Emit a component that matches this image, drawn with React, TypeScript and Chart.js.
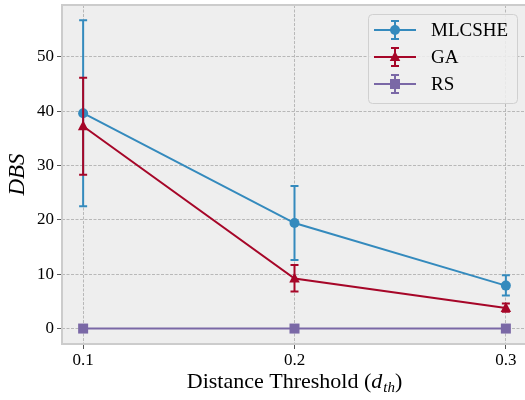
import React, { useEffect, useRef } from "react";
import { Chart, registerables } from "chart.js";

Chart.register(...registerables);

const thresholds = [0.1, 0.2, 0.3];
const mlcsheMean = [39.6, 19.4, 7.9];
const mlcsheLow = [22.5, 12.6, 6.1];
const mlcsheHigh = [56.7, 26.2, 9.8];
const gaMean = [37.2, 9.2, 3.8];
const gaLow = [28.3, 6.8, 3.1];
const gaHigh = [46.1, 11.7, 4.6];
const rsMean = [0, 0, 0];
const rsLow = [0, 0, 0];
const rsHigh = [0, 0, 0];
const yTicks = [0, 10, 20, 30, 40, 50];
const xTicks = [0.1, 0.2, 0.3];
const seriesNames = ["MLCSHE", "GA", "RS"];
const seriesColors = ["#348ABD", "#A60628", "#7A68A6"];
const seriesMarkers = ["circle", "triangle", "rect"];

const SERIF = "'Liberation Serif', 'Times New Roman', serif";

function drawMarker(ctx: CanvasRenderingContext2D, style: string, x: number, y: number, r: number, color: string) {
  ctx.save();
  ctx.fillStyle = color;
  ctx.beginPath();
  if (style === "circle") {
    ctx.arc(x, y, r, 0, Math.PI * 2);
  } else if (style === "triangle") {
    ctx.moveTo(x, y - r * 1.2);
    ctx.lineTo(x + r * 1.05, y + r * 0.8);
    ctx.lineTo(x - r * 1.05, y + r * 0.8);
    ctx.closePath();
  } else {
    ctx.rect(x - r, y - r, 2 * r, 2 * r);
  }
  ctx.fill();
  ctx.restore();
}

export default function App() {
  const ref = useRef<HTMLCanvasElement>(null);
  useEffect(() => {
    if (!ref.current) return;
    const lows = [mlcsheLow, gaLow, rsLow];
    const highs = [mlcsheHigh, gaHigh, rsHigh];
    const means = [mlcsheMean, gaMean, rsMean];

    const datasets = seriesNames.map((name, i) => ({
      label: name,
      data: thresholds.map((t, j) => ({ x: t, y: means[i][j] })),
      borderColor: seriesColors[i],
      backgroundColor: seriesColors[i],
      borderWidth: 2,
      pointRadius: 0,
      pointHoverRadius: 0,
      tension: 0,
    }));

    const bgPlugin = {
      id: "bg",
      beforeDraw(chart: any) {
        const { ctx, chartArea: a } = chart;
        ctx.save();
        ctx.fillStyle = "#eeeeee";
        ctx.fillRect(a.left, a.top, a.right - a.left, a.bottom - a.top);
        ctx.restore();
      },
    };

    const errPlugin = {
      id: "err",
      afterDatasetsDraw(chart: any) {
        const { ctx } = chart;
        const xs = chart.scales.x;
        const ys = chart.scales.y;
        seriesNames.forEach((_, i) => {
          ctx.save();
          ctx.strokeStyle = seriesColors[i];
          ctx.lineWidth = 2;
          thresholds.forEach((t, j) => {
            const px = xs.getPixelForValue(t);
            const y1 = ys.getPixelForValue(lows[i][j]);
            const y2 = ys.getPixelForValue(highs[i][j]);
            if (Math.abs(y1 - y2) > 0.5) {
              ctx.beginPath();
              ctx.moveTo(px, y1);
              ctx.lineTo(px, y2);
              ctx.moveTo(px - 4, y1);
              ctx.lineTo(px + 4, y1);
              ctx.moveTo(px - 4, y2);
              ctx.lineTo(px + 4, y2);
              ctx.stroke();
            }
            drawMarker(ctx, seriesMarkers[i], px, ys.getPixelForValue(means[i][j]), 5, seriesColors[i]);
          });
          ctx.restore();
        });
      },
    };

    const framePlugin = {
      id: "frame",
      afterDraw(chart: any) {
        const { ctx, chartArea: a } = chart;
        ctx.save();
        ctx.strokeStyle = "#cccccc";
        ctx.lineWidth = 2;
        ctx.strokeRect(a.left, a.top, a.right - a.left, a.bottom - a.top);
        // x title with italic subscript
        const cx = (a.left + a.right) / 2;
        ctx.fillStyle = "#000";
        ctx.textBaseline = "alphabetic";
        const f1 = `22px ${SERIF}`;
        const f2 = `italic 22px ${SERIF}`;
        const f3 = `italic 15px ${SERIF}`;
        const p1 = "Distance Threshold (";
        ctx.font = f1; const w1 = ctx.measureText(p1).width; const w4 = ctx.measureText(")").width;
        ctx.font = f2; const w2 = ctx.measureText("d").width;
        ctx.font = f3; const w3 = ctx.measureText("th").width;
        const total = w1 + w2 + w3 + w4 + 1;
        let x = cx - total / 2;
        const base = 388;
        ctx.font = f1; ctx.fillText(p1, x, base); x += w1;
        ctx.font = f2; ctx.fillText("d", x, base); x += w2 + 1;
        ctx.font = f3; ctx.fillText("th", x, base + 4); x += w3;
        ctx.font = f1; ctx.fillText(")", x, base);
        // y title
        ctx.save();
        ctx.translate(18, (a.top + a.bottom) / 2);
        ctx.rotate(-Math.PI / 2);
        ctx.font = `italic 23px ${SERIF}`;
        ctx.textAlign = "center";
        ctx.textBaseline = "middle";
        ctx.fillText("DBS", 0, 0);
        ctx.restore();
        // legend
        const lx = 368, ly = 14, lw = 149, lh = 89;
        ctx.fillStyle = "rgba(238,238,238,0.85)";
        ctx.strokeStyle = "#d0d0d0";
        ctx.lineWidth = 1;
        ctx.beginPath();
        ctx.roundRect(lx + 0.5, ly + 0.5, lw, lh, 4);
        ctx.fill();
        ctx.stroke();
        seriesNames.forEach((name, i) => {
          const ey = 30 + i * 27;
          ctx.strokeStyle = seriesColors[i];
          ctx.lineWidth = 2;
          ctx.beginPath();
          ctx.moveTo(374, ey); ctx.lineTo(416, ey);
          ctx.moveTo(395, ey - 9); ctx.lineTo(395, ey + 9);
          ctx.moveTo(391, ey - 9); ctx.lineTo(399, ey - 9);
          ctx.moveTo(391, ey + 9); ctx.lineTo(399, ey + 9);
          ctx.stroke();
          drawMarker(ctx, seriesMarkers[i], 395, ey, 5, seriesColors[i]);
          ctx.fillStyle = "#000";
          ctx.font = `19px ${SERIF}`;
          ctx.textAlign = "left";
          ctx.textBaseline = "middle";
          ctx.fillText(name, 431, ey + 1);
        });
        ctx.restore();
      },
    };

    const chart = new Chart(ref.current, {
      type: "line",
      data: { datasets: datasets as any },
      plugins: [bgPlugin, errPlugin, framePlugin],
      options: {
        animation: false,
        responsive: false,
        maintainAspectRatio: false,
        layout: { padding: { top: 5, right: 0, left: 0, bottom: 0 } },
        plugins: { legend: { display: false }, tooltip: { enabled: false } },
        scales: {
          x: {
            type: "linear",
            min: 0.09,
            max: 0.31,
            afterBuildTicks(scale: any) {
              scale.ticks = xTicks.map((v) => ({ value: v }));
            },
            afterFit(scale: any) {
              scale.height = 56;
            },
            ticks: {
              font: { family: SERIF, size: 17 },
              color: "#000",
              padding: 1,
              callback: (v: any) => Number(v).toFixed(1),
            },
            grid: { color: "#b8b8b8", tickColor: "#555", tickLength: 5, lineWidth: 1 },
            border: { display: false, dash: [3, 1.5] },
          },
          y: {
            type: "linear",
            min: -2.84,
            max: 59.5,
            afterBuildTicks(scale: any) {
              scale.ticks = yTicks.map((v) => ({ value: v }));
            },
            afterFit(scale: any) {
              scale.width = 62;
              scale.paddingTop = 0;
              scale.paddingBottom = 0;
            },
            ticks: {
              font: { family: SERIF, size: 17, lineHeight: 0.5 },
              color: "#000",
              padding: 3,
            },
            grid: { color: "#b8b8b8", tickColor: "#555", tickLength: 5, lineWidth: 1 },
            border: { display: false, dash: [3, 1.5] },
          },
        },
      },
    });
    return () => chart.destroy();
  }, []);
  return (
    <div style={{ position: "absolute", left: 0, top: 0, width: 525, height: 400, overflow: "hidden" }}>
      <canvas ref={ref} width={527} height={400} style={{ width: 527, height: 400 }} />
    </div>
  );
}
